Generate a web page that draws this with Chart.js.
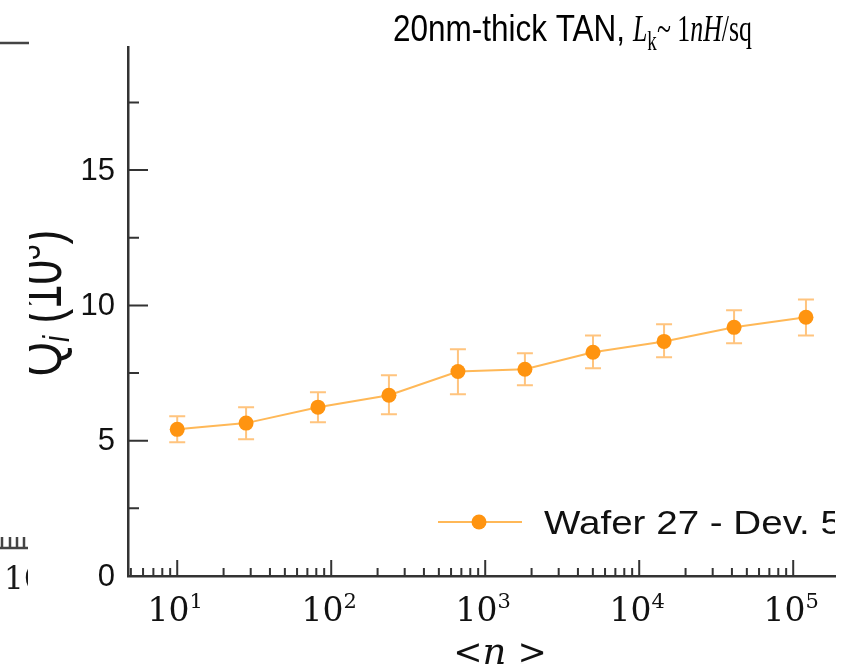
<!DOCTYPE html>
<html>
<head>
<meta charset="utf-8">
<script src="https://cdn.jsdelivr.net/npm/chart.js@4.4.1/dist/chart.umd.min.js"></script>
<style>
  html, body { margin: 0; padding: 0; background: #fff; }
</style>
</head>
<body>
<canvas id="stage" width="860" height="668"></canvas>
<script>
// data
const nValues = [10, 28, 82, 237, 665, 1810, 5010, 14500, 41300, 121000];
const qValues = [5.42, 5.65, 6.24, 6.68, 7.56, 7.64, 8.27, 8.67, 9.19, 9.56];
const qUpper = [5.90, 6.24, 6.79, 7.42, 8.38, 8.23, 8.89, 9.30, 9.82, 10.22];
const qLower = [4.94, 5.05, 5.68, 5.98, 6.72, 7.05, 7.68, 8.08, 8.60, 8.89];
const seriesLabel = 'Wafer 27 - Dev. 5';

// axis ticks
const xMajor = [10, 100, 1000, 10000, 100000];
const xExponents = ['1', '2', '3', '4', '5'];
const xMinorMult = [2, 3, 4, 5, 6, 7, 8, 9];
const yMajor = [0, 5, 10, 15];
const yMinor = [2.5, 7.5, 12.5, 17.5];

const orange = '#FF9410';
const lineOrange = '#FFB857';
const errOrange = '#FFC47E';
const axisColor = '#333333';
const sans = '"Liberation Sans", Arial, sans-serif';
const serif = '"DejaVu Serif", serif';
const tserif = '"Liberation Serif", serif';

// draw a list of text pieces [text, font, dy] starting at x
function drawPieces(ctx, pieces, x, y) {
    for (const p of pieces) {
        ctx.font = p[1];
        ctx.fillText(p[0], x, y + (p[2] || 0));
        x += ctx.measureText(p[0]).width;
    }
    return x;
}
function piecesWidth(ctx, pieces) {
    let w = 0;
    for (const p of pieces) {
        ctx.font = p[1];
        w += ctx.measureText(p[0]).width;
    }
    return w;
}
// same, squeezed or stretched to a given width
function drawFitted(ctx, pieces, x, y, width) {
    const w = piecesWidth(ctx, pieces);
    ctx.save();
    ctx.translate(x, y);
    ctx.scale(width / w, 1);
    drawPieces(ctx, pieces, 0, 0);
    ctx.restore();
}

const extras = {
    id: 'extras',
    beforeDatasetsDraw(chart) {
        const ctx = chart.ctx;
        const xs = chart.scales.x, ys = chart.scales.y;
        ctx.save();
        ctx.strokeStyle = errOrange;
        ctx.lineWidth = 2;
        for (let i = 0; i < nValues.length; i++) {
            const px = xs.getPixelForValue(nValues[i]);
            const top = ys.getPixelForValue(qUpper[i]);
            const bot = ys.getPixelForValue(qLower[i]);
            ctx.beginPath();
            ctx.moveTo(px, top); ctx.lineTo(px, bot);
            ctx.moveTo(px - 8, top); ctx.lineTo(px + 8, top);
            ctx.moveTo(px - 8, bot); ctx.lineTo(px + 8, bot);
            ctx.stroke();
        }
        ctx.restore();
    },
    afterDraw(chart) {
        const ctx = chart.ctx;
        const xs = chart.scales.x, ys = chart.scales.y;
        const area = chart.chartArea;
        ctx.save();
        ctx.strokeStyle = axisColor;
        ctx.lineWidth = 2;

        // y ticks, pointing inward
        ctx.beginPath();
        yMajor.forEach(v => {
            const py = ys.getPixelForValue(v);
            ctx.moveTo(area.left, py); ctx.lineTo(area.left + 20, py);
        });
        yMinor.forEach(v => {
            const py = ys.getPixelForValue(v);
            ctx.moveTo(area.left, py); ctx.lineTo(area.left + 11, py);
        });
        // x ticks, pointing inward
        xMajor.forEach(v => {
            const px = xs.getPixelForValue(v);
            ctx.moveTo(px, area.bottom); ctx.lineTo(px, area.bottom - 16);
        });
        for (let d = 0; d <= 5; d++) {
            xMinorMult.forEach(m => {
                const v = m * Math.pow(10, d);
                if (v <= xs.min || v >= xs.max) return;
                const px = xs.getPixelForValue(v);
                ctx.moveTo(px, area.bottom); ctx.lineTo(px, area.bottom - 8);
            });
        }
        ctx.stroke();

        // y tick labels
        ctx.fillStyle = '#111';
        ctx.font = '31px ' + sans;
        ctx.textAlign = 'right';
        ctx.textBaseline = 'middle';
        yMajor.forEach(v => {
            ctx.fillText(String(v), area.left - 13, ys.getPixelForValue(v) + 1);
        });

        // x tick labels 10^n
        ctx.textAlign = 'left';
        ctx.textBaseline = 'alphabetic';
        xMajor.forEach((v, i) => {
            const pieces = [['10', '33px ' + serif], [xExponents[i], '21px ' + serif, -13]];
            const w = piecesWidth(ctx, pieces);
            drawPieces(ctx, pieces, xs.getPixelForValue(v) - w / 2 - 2, 621);
        });

        // x axis title
        const xt = [['<', '35px ' + serif], ['n', 'italic 37px ' + serif], [' >', '35px ' + serif]];
        drawPieces(ctx, xt, 500 - piecesWidth(ctx, xt) / 2, 664);

        // chart title: plain part and math part
        ctx.fillStyle = '#000';
        drawFitted(ctx, [['20nm-thick TAN,', '36px ' + sans]], 393, 41, 232);
        drawFitted(ctx, [
            ['L', 'italic 38px ' + tserif],
            ['k', '28px ' + tserif, 9],
            ['~ 1', '38px ' + tserif],
            ['nH', 'italic 38px ' + tserif],
            ['/', '38px ' + tserif],
            ['sq', '38px ' + tserif]
        ], 633, 41, 119);

        // legend (cut at right edge)
        ctx.save();
        ctx.beginPath();
        ctx.rect(0, 0, 835, 668);
        ctx.clip();
        ctx.strokeStyle = lineOrange;
        ctx.lineWidth = 2;
        ctx.beginPath();
        ctx.moveTo(438, 522); ctx.lineTo(522, 522);
        ctx.stroke();
        ctx.fillStyle = orange;
        ctx.beginPath();
        ctx.arc(479, 522, 7.5, 0, Math.PI * 2);
        ctx.fill();
        ctx.fillStyle = '#111';
        drawFitted(ctx, [[seriesLabel, '33px ' + sans]], 544, 534, 298);
        ctx.restore();

        // y axis title, cropped at the left
        ctx.save();
        ctx.beginPath();
        ctx.rect(29, 0, 860, 668);
        ctx.clip();
        ctx.translate(61, 303);
        ctx.rotate(-Math.PI / 2);
        ctx.scale(1, 1.3);
        const yt = [
            ['Q', '44px ' + sans],
            ['i', 'italic 28px ' + sans, 6],
            [' (10', '44px ' + sans],
            ['3', '28px ' + sans, -16],
            [')', '44px ' + sans]
        ];
        ctx.fillStyle = '#111';
        drawPieces(ctx, yt, -piecesWidth(ctx, yt) / 2, 0);
        ctx.restore();

        // fragments of the neighbouring panel on the left
        ctx.strokeStyle = '#444';
        ctx.lineWidth = 2.5;
        ctx.beginPath();
        ctx.moveTo(0, 43); ctx.lineTo(29, 43);
        ctx.moveTo(0, 548); ctx.lineTo(28, 548);
        [2, 10, 17, 24].forEach(x => { ctx.moveTo(x, 548); ctx.lineTo(x, 537); });
        ctx.stroke();
        ctx.save();
        ctx.beginPath();
        ctx.rect(0, 0, 28, 668);
        ctx.clip();
        ctx.fillStyle = '#1a1a1a';
        ctx.font = '31px ' + serif;
        ctx.fillText('10', 4, 589);
        ctx.restore();

        ctx.restore();
    }
};

new Chart(document.getElementById('stage'), {
    type: 'line',
    data: {
        datasets: [{
            label: seriesLabel,
            data: nValues.map((n, i) => ({ x: n, y: qValues[i] })),
            borderColor: lineOrange,
            borderWidth: 2,
            pointRadius: 7.5,
            pointBackgroundColor: orange,
            pointBorderWidth: 0,
            tension: 0
        }]
    },
    options: {
        responsive: false,
        animation: false,
        layout: { padding: { top: 47, right: 25, left: 0, bottom: 0 } },
        plugins: {
            legend: { display: false },
            title: { display: false },
            tooltip: { enabled: false }
        },
        scales: {
            x: {
                type: 'logarithmic',
                min: 4.79,
                max: 186800,
                ticks: { display: false },
                grid: { display: false, drawTicks: false },
                border: { display: true, color: axisColor, width: 2.5 },
                afterFit: s => { s.height = 92; }
            },
            y: {
                min: 0,
                max: 19.55,
                ticks: { display: false },
                grid: { display: false, drawTicks: false },
                border: { display: true, color: axisColor, width: 2.5 },
                afterFit: s => { s.width = 128; }
            }
        }
    },
    plugins: [extras]
});
</script>
</body>
</html>
